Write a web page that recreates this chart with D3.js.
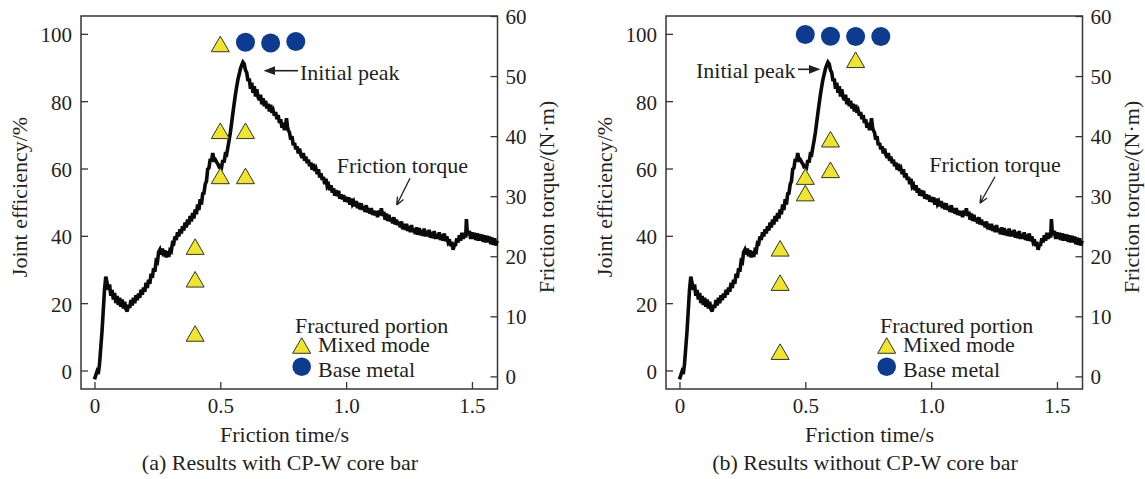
<!DOCTYPE html>
<html><head><meta charset="utf-8">
<script src="https://cdn.jsdelivr.net/npm/d3@7"></script>
<style>
body{margin:0;background:#fff;}
svg{display:block;}
</style></head><body>
<svg id="c" width="1145" height="479"></svg>
<script>
// ---------- data ----------
// friction torque curve [time s, torque N·m] (same in both panels)
const frictionCurve = [
[0.000,-0.5],[0.010,0.8],[0.015,0.4],[0.020,2.0],[0.030,7.5],[0.040,14.5],[0.045,16.6],[0.050,15.6],
[0.055,14.4],[0.060,15.3],[0.065,13.4],[0.070,14.4],[0.075,12.8],[0.080,13.9],[0.085,12.2],[0.090,13.4],
[0.095,11.9],[0.100,13.1],[0.105,11.6],[0.110,12.8],[0.115,11.3],[0.120,12.4],[0.125,11.2],[0.130,10.8],
[0.135,11.9],[0.140,11.4],[0.145,12.7],[0.150,11.8],[0.155,13.1],[0.160,12.2],[0.165,13.5],[0.170,12.7],
[0.175,13.8],[0.180,13.1],[0.185,14.4],[0.190,13.6],[0.195,14.8],[0.200,14.1],[0.205,15.6],[0.210,14.7],
[0.215,16.1],[0.220,15.4],[0.225,17.1],[0.230,16.4],[0.235,18.0],[0.240,17.4],[0.245,19.2],[0.250,19.0],
[0.255,20.7],[0.260,21.1],[0.265,20.3],[0.270,21.3],[0.275,20.0],[0.280,21.0],[0.285,19.8],[0.290,20.8],
[0.295,19.9],[0.300,21.0],[0.305,20.8],[0.310,22.2],[0.315,22.1],[0.320,23.3],[0.325,22.7],[0.330,24.0],
[0.335,23.3],[0.340,24.5],[0.345,23.8],[0.350,25.0],[0.355,24.3],[0.360,25.6],[0.365,24.8],[0.370,26.1],
[0.375,25.3],[0.380,26.7],[0.385,25.8],[0.390,27.2],[0.395,26.3],[0.400,27.8],[0.405,27.0],[0.410,28.6],
[0.415,27.7],[0.420,29.5],[0.425,28.6],[0.430,30.4],[0.435,30.5],[0.440,32.0],[0.445,32.5],[0.450,34.5],
[0.455,34.7],[0.460,36.2],[0.465,35.8],[0.470,37.2],[0.475,36.0],[0.480,36.1],[0.485,35.7],[0.490,35.4],
[0.495,34.9],[0.500,35.0],[0.505,34.8],[0.510,36.0],[0.515,35.6],[0.520,37.0],[0.525,36.9],[0.530,38.1],
[0.535,39.3],[0.540,40.6],[0.545,42.2],[0.550,43.8],[0.555,45.4],[0.560,46.9],[0.565,48.2],[0.570,49.4],
[0.575,50.3],[0.580,51.2],[0.585,51.8],[0.590,52.3],[0.595,52.0],[0.600,51.0],[0.605,50.6],[0.610,49.2],
[0.615,49.6],[0.620,47.9],[0.625,48.9],[0.630,47.2],[0.635,48.3],[0.640,46.6],[0.645,47.8],[0.650,46.5],
[0.655,46.0],[0.660,46.9],[0.665,45.3],[0.670,46.3],[0.675,45.0],[0.680,45.9],[0.685,44.6],[0.690,45.4],
[0.695,44.1],[0.700,45.2],[0.705,43.9],[0.710,44.3],[0.715,43.4],[0.720,44.0],[0.725,42.8],[0.730,43.5],
[0.735,42.2],[0.740,42.8],[0.745,41.4],[0.750,42.2],[0.755,41.0],[0.760,42.0],[0.763,43.0],[0.767,41.6],
[0.770,41.0],[0.775,40.6],[0.780,39.4],[0.785,40.0],[0.790,38.5],[0.795,38.9],[0.800,37.8],[0.805,38.3],
[0.810,37.1],[0.815,37.9],[0.820,36.9],[0.825,36.4],[0.830,37.2],[0.835,35.9],[0.840,36.6],[0.845,35.5],
[0.850,36.1],[0.855,35.0],[0.860,35.6],[0.865,34.4],[0.870,35.4],[0.875,34.2],[0.880,34.6],[0.885,33.7],
[0.890,34.5],[0.895,33.1],[0.900,33.8],[0.905,32.7],[0.910,33.2],[0.915,32.0],[0.920,32.9],[0.925,31.6],
[0.930,31.9],[0.935,31.0],[0.940,31.8],[0.945,30.6],[0.950,31.3],[0.955,30.1],[0.960,31.0],[0.965,30.0],
[0.970,30.9],[0.975,29.6],[0.980,30.3],[0.985,29.5],[0.990,30.2],[0.995,29.1],[1.000,29.9],[1.005,29.0],
[1.010,29.8],[1.015,28.6],[1.020,29.6],[1.025,28.7],[1.030,29.1],[1.035,28.3],[1.040,29.2],[1.045,28.0],
[1.050,28.9],[1.055,27.8],[1.060,28.8],[1.065,27.7],[1.070,28.3],[1.075,27.4],[1.080,28.5],[1.085,27.3],
[1.090,28.0],[1.095,27.1],[1.100,28.0],[1.105,26.9],[1.110,27.6],[1.115,26.8],[1.120,27.5],[1.125,26.5],
[1.130,27.6],[1.135,26.8],[1.140,28.0],[1.145,26.7],[1.150,27.4],[1.155,26.1],[1.160,27.1],[1.165,25.9],
[1.170,26.9],[1.175,25.8],[1.180,26.4],[1.185,25.5],[1.190,26.5],[1.195,25.3],[1.200,26.1],[1.205,25.2],
[1.210,25.7],[1.215,24.8],[1.220,25.8],[1.225,24.5],[1.230,25.4],[1.235,24.4],[1.240,25.4],[1.245,24.2],
[1.250,25.0],[1.255,24.0],[1.260,25.2],[1.265,24.0],[1.270,24.6],[1.275,23.7],[1.280,24.8],[1.285,23.6],
[1.290,24.7],[1.295,23.5],[1.300,24.4],[1.305,23.4],[1.310,24.6],[1.315,23.3],[1.320,24.2],[1.325,23.3],
[1.330,24.4],[1.335,23.1],[1.340,24.0],[1.345,23.0],[1.350,24.2],[1.355,22.9],[1.360,23.7],[1.365,22.9],
[1.370,24.0],[1.375,22.7],[1.380,23.6],[1.385,22.6],[1.390,23.8],[1.395,22.5],[1.400,23.3],[1.405,22.4],
[1.410,22.8],[1.415,21.7],[1.420,22.4],[1.425,21.1],[1.430,21.8],[1.435,21.9],[1.440,23.0],[1.445,22.3],
[1.450,23.5],[1.455,22.6],[1.460,23.9],[1.465,22.9],[1.470,23.9],[1.475,23.1],[1.478,26.2],[1.482,23.5],
[1.490,24.2],[1.495,22.9],[1.500,24.0],[1.505,22.9],[1.510,23.9],[1.515,22.7],[1.520,23.8],[1.525,22.6],
[1.530,23.7],[1.535,22.6],[1.540,23.6],[1.545,22.4],[1.550,23.5],[1.555,22.3],[1.560,23.4],[1.565,22.3],
[1.570,23.3],[1.575,22.0],[1.580,23.1],[1.585,21.9],[1.590,23.0],[1.595,21.8],[1.600,22.6]
];
// joint efficiency markers [time s, efficiency %]
const mixedA = [[0.5,97],[0.5,71.2],[0.6,71.2],[0.5,57.8],[0.6,57.8],[0.4,36.8],[0.4,27.1],[0.4,11]];
const baseA  = [[0.6,97.5],[0.7,97.3],[0.8,97.7]];
const mixedB = [[0.7,92.3],[0.6,68.7],[0.6,59.6],[0.5,57.6],[0.5,52.7],[0.4,36.3],[0.4,26.1],[0.4,5.6]];
const baseB  = [[0.5,99.8],[0.6,99.3],[0.7,99.2],[0.8,99.2]];
const timeTicks = [0,0.5,1.0,1.5];
const effTicks = [0,20,40,60,80,100];
const torqueTicks = [0,10,20,30,40,50,60];
const captions = ["(a) Results with CP-W core bar","(b) Results without CP-W core bar"];

// ---------- drawing ----------
const FONT = '"Liberation Serif","Times New Roman",serif';
const INK = "#231f20", AX = "#3a3535";
const YELLOW = "#efe62c", BLUE = "#0c3b8f";
const svg = d3.select("#c").attr("font-family", FONT);

function triPath(cx, cy, s){
  const h = s*0.866;
  return `M${cx},${cy-h/2}L${cx+s/2},${cy+h/2}L${cx-s/2},${cy+h/2}Z`;
}
function styleAxis(sel, fs){
  sel.attr("font-family", FONT).attr("font-size", fs);
  sel.select(".domain").remove();
  sel.selectAll("line").attr("stroke", AX).attr("stroke-width", 1.3);
  sel.selectAll("text").attr("fill", INK);
}

const panels = [
  {dx:0, mixed:mixedA, base:baseA, caption:captions[0], side:"a"},
  {dx:585, mixed:mixedB, base:baseB, caption:captions[1], side:"b"}
];

panels.forEach(p => {
  const g = svg.append("g").attr("transform", `translate(${p.dx},0)`);
  const L = 81, R = 497.5, T = 16, B = 389;
  const x = d3.scaleLinear().domain([-0.0535, 1.6015]).range([L, R]);
  const yL = d3.scaleLinear().domain([-5.5, 105.3]).range([B, T]);
  const yR = d3.scaleLinear().domain([-2.1, 60]).range([B, T]);

  // axes
  g.append("g").attr("transform", `translate(${L},0)`)
    .call(d3.axisLeft(yL).tickValues(effTicks).tickSize(-7).tickSizeOuter(0).tickPadding(9))
    .call(s => { styleAxis(s, 21); s.selectAll("text").attr("dy", "0.38em"); });
  g.append("g").attr("transform", `translate(${R},0)`)
    .call(d3.axisRight(yR).tickValues(torqueTicks).tickSize(-7).tickSizeOuter(0).tickPadding(8))
    .call(s => { styleAxis(s, 21); s.selectAll("text").attr("dy", "0.34em"); });
  g.append("g").attr("transform", `translate(0,${B})`)
    .call(d3.axisBottom(x).tickValues(timeTicks).tickSize(-7).tickSizeOuter(0).tickPadding(9)
      .tickFormat(d => d === 0 ? "0" : d.toFixed(1)))
    .call(s => styleAxis(s, 21));

  g.append("rect").attr("x", L).attr("y", T).attr("width", R-L).attr("height", B-T)
    .attr("fill", "none").attr("stroke", AX).attr("stroke-width", 1.5);

  // curve
  g.append("path").datum(frictionCurve)
    .attr("d", d3.line().x(d => x(d[0])).y(d => yR(d[1])))
    .attr("fill", "none").attr("stroke", "#0a0a0a").attr("stroke-width", 3.6)
    .attr("stroke-linejoin", "miter").attr("stroke-miterlimit", 3);

  // markers
  g.selectAll("path.tri").data(p.mixed).join("path").attr("class", "tri")
    .attr("d", d => triPath(x(d[0]), yL(d[1]), 18))
    .attr("fill", YELLOW).attr("stroke", "#333").attr("stroke-width", 1);
  g.selectAll("circle.base").data(p.base).join("circle").attr("class", "base")
    .attr("cx", d => x(d[0])).attr("cy", d => yL(d[1])).attr("r", 9.5)
    .attr("fill", BLUE);

  // axis titles
  g.append("text").attr("x", 284.5).attr("y", 442).attr("text-anchor", "middle")
    .attr("font-size", 22).attr("fill", INK).text("Friction time/s");
  g.append("text").attr("transform", "translate(26.5,197) rotate(-90)").attr("text-anchor", "middle")
    .attr("font-size", 22).attr("fill", INK).text("Joint efficiency/%");
  g.append("text").attr("transform", "translate(553.5,197) rotate(-90)").attr("text-anchor", "middle")
    .attr("font-size", 22).attr("fill", INK).text("Friction torque/(N·m)");
  g.append("text").attr("x", 280).attr("y", 470).attr("text-anchor", "middle")
    .attr("font-size", 22).attr("fill", INK).text(p.caption);

  // legend
  g.append("text").attr("x", 295).attr("y", 332.5).attr("font-size", 22).attr("fill", INK).text("Fractured portion");
  g.append("path").attr("d", triPath(301.7, 345.5, 18)).attr("fill", YELLOW).attr("stroke", "#333").attr("stroke-width", 1);
  g.append("text").attr("x", 318).attr("y", 351.5).attr("font-size", 22).attr("fill", INK).text("Mixed mode");
  g.append("circle").attr("cx", 301.7).attr("cy", 366.7).attr("r", 9.3).attr("fill", BLUE);
  g.append("text").attr("x", 318).attr("y", 377).attr("font-size", 22).attr("fill", INK).text("Base metal");

  // annotations
  const ann = g.append("g").attr("fill", INK).attr("font-size", 22);
  if (p.side === "a") {
    ann.append("text").attr("x", 300).attr("y", 79.5).text("Initial peak");
    ann.append("line").attr("x1", 298).attr("y1", 70.7).attr("x2", 272).attr("y2", 70.7).attr("stroke", INK).attr("stroke-width", 1.6);
    ann.append("path").attr("d", "M263.5,70.7L275,66.3L275,75.1Z").attr("fill", INK);
    ann.append("text").attr("x", 336.7).attr("y", 173).text("Friction torque");
    ann.append("path").attr("d", "M410,178.3L396.7,205M396.7,205L397.5,196.5M396.7,205L403.5,199.5")
      .attr("stroke", INK).attr("stroke-width", 1.3).attr("fill", "none");
  } else {
    ann.append("text").attr("x", 111).attr("y", 77.5).text("Initial peak");
    ann.append("line").attr("x1", 213).attr("y1", 69.3).attr("x2", 226).attr("y2", 69.3).attr("stroke", INK).attr("stroke-width", 1.6);
    ann.append("path").attr("d", "M235.5,69.3L224,64.9L224,73.7Z").attr("fill", INK);
    ann.append("text").attr("x", 344.3).attr("y", 171.5).text("Friction torque");
    ann.append("path").attr("d", "M410,176.7L395,203.3M395,203.3L396,194.8M395,203.3L402,198")
      .attr("stroke", INK).attr("stroke-width", 1.3).attr("fill", "none");
  }
});
</script>
</body></html>
